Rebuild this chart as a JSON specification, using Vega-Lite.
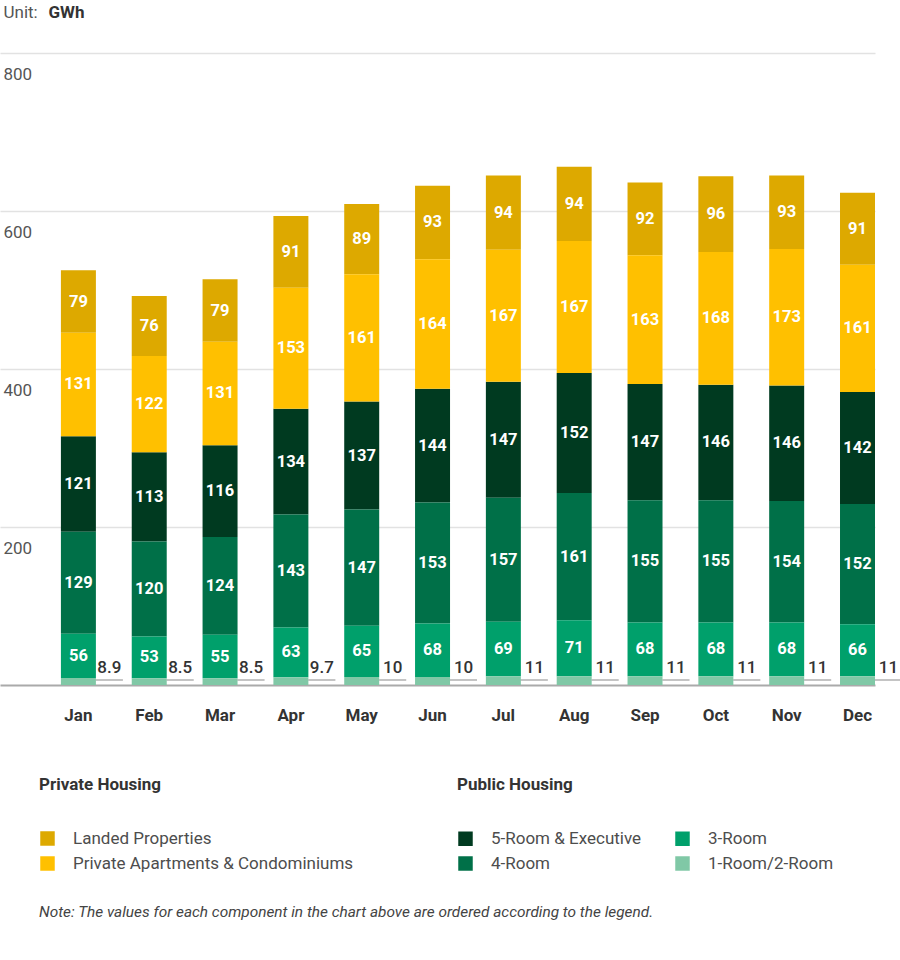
{
  "$schema": "https://vega.github.io/schema/vega-lite/v6.json",
  "width": 875,
  "height": 632,
  "autosize": {"type": "none"},
  "padding": {"left": 0, "top": 53, "right": 25, "bottom": 275},
  "background": "white",
  "config": {"font": "Roboto", "view": {"stroke": null}, "legend": {"symbolStrokeWidth": 0, "padding": 0}},
  "title": {"text": "Note: The values for each component in the chart above are ordered according to the legend.", "orient": "bottom", "anchor": "start", "frame": "group", "dx": 39, "offset": 33, "baseline": "top", "fontSize": 15.4, "fontWeight": "normal", "fontStyle": "italic", "color": "#444444", "font": "Roboto"},
  "datasets": {
    "seriesInfo": [
      {"series": "1-Room/2-Room", "group": "Public", "k": 1},
      {"series": "3-Room", "group": "Public", "k": 2},
      {"series": "4-Room", "group": "Public", "k": 3},
      {"series": "5-Room & Executive", "group": "Public", "k": 4},
      {"series": "Private Apartments & Condominiums", "group": "Private", "k": 5},
      {"series": "Landed Properties", "group": "Private", "k": 6}
    ],
    "energy": [
      {"month": "Jan", "series": "Landed Properties", "value": 79},
      {"month": "Feb", "series": "Landed Properties", "value": 76},
      {"month": "Mar", "series": "Landed Properties", "value": 79},
      {"month": "Apr", "series": "Landed Properties", "value": 91},
      {"month": "May", "series": "Landed Properties", "value": 89},
      {"month": "Jun", "series": "Landed Properties", "value": 93},
      {"month": "Jul", "series": "Landed Properties", "value": 94},
      {"month": "Aug", "series": "Landed Properties", "value": 94},
      {"month": "Sep", "series": "Landed Properties", "value": 92},
      {"month": "Oct", "series": "Landed Properties", "value": 96},
      {"month": "Nov", "series": "Landed Properties", "value": 93},
      {"month": "Dec", "series": "Landed Properties", "value": 91},
      {"month": "Jan", "series": "Private Apartments & Condominiums", "value": 131},
      {"month": "Feb", "series": "Private Apartments & Condominiums", "value": 122},
      {"month": "Mar", "series": "Private Apartments & Condominiums", "value": 131},
      {"month": "Apr", "series": "Private Apartments & Condominiums", "value": 153},
      {"month": "May", "series": "Private Apartments & Condominiums", "value": 161},
      {"month": "Jun", "series": "Private Apartments & Condominiums", "value": 164},
      {"month": "Jul", "series": "Private Apartments & Condominiums", "value": 167},
      {"month": "Aug", "series": "Private Apartments & Condominiums", "value": 167},
      {"month": "Sep", "series": "Private Apartments & Condominiums", "value": 163},
      {"month": "Oct", "series": "Private Apartments & Condominiums", "value": 168},
      {"month": "Nov", "series": "Private Apartments & Condominiums", "value": 173},
      {"month": "Dec", "series": "Private Apartments & Condominiums", "value": 161},
      {"month": "Jan", "series": "5-Room & Executive", "value": 121},
      {"month": "Feb", "series": "5-Room & Executive", "value": 113},
      {"month": "Mar", "series": "5-Room & Executive", "value": 116},
      {"month": "Apr", "series": "5-Room & Executive", "value": 134},
      {"month": "May", "series": "5-Room & Executive", "value": 137},
      {"month": "Jun", "series": "5-Room & Executive", "value": 144},
      {"month": "Jul", "series": "5-Room & Executive", "value": 147},
      {"month": "Aug", "series": "5-Room & Executive", "value": 152},
      {"month": "Sep", "series": "5-Room & Executive", "value": 147},
      {"month": "Oct", "series": "5-Room & Executive", "value": 146},
      {"month": "Nov", "series": "5-Room & Executive", "value": 146},
      {"month": "Dec", "series": "5-Room & Executive", "value": 142},
      {"month": "Jan", "series": "4-Room", "value": 129},
      {"month": "Feb", "series": "4-Room", "value": 120},
      {"month": "Mar", "series": "4-Room", "value": 124},
      {"month": "Apr", "series": "4-Room", "value": 143},
      {"month": "May", "series": "4-Room", "value": 147},
      {"month": "Jun", "series": "4-Room", "value": 153},
      {"month": "Jul", "series": "4-Room", "value": 157},
      {"month": "Aug", "series": "4-Room", "value": 161},
      {"month": "Sep", "series": "4-Room", "value": 155},
      {"month": "Oct", "series": "4-Room", "value": 155},
      {"month": "Nov", "series": "4-Room", "value": 154},
      {"month": "Dec", "series": "4-Room", "value": 152},
      {"month": "Jan", "series": "3-Room", "value": 56},
      {"month": "Feb", "series": "3-Room", "value": 53},
      {"month": "Mar", "series": "3-Room", "value": 55},
      {"month": "Apr", "series": "3-Room", "value": 63},
      {"month": "May", "series": "3-Room", "value": 65},
      {"month": "Jun", "series": "3-Room", "value": 68},
      {"month": "Jul", "series": "3-Room", "value": 69},
      {"month": "Aug", "series": "3-Room", "value": 71},
      {"month": "Sep", "series": "3-Room", "value": 68},
      {"month": "Oct", "series": "3-Room", "value": 68},
      {"month": "Nov", "series": "3-Room", "value": 68},
      {"month": "Dec", "series": "3-Room", "value": 66},
      {"month": "Jan", "series": "1-Room/2-Room", "value": 8.9},
      {"month": "Feb", "series": "1-Room/2-Room", "value": 8.5},
      {"month": "Mar", "series": "1-Room/2-Room", "value": 8.5},
      {"month": "Apr", "series": "1-Room/2-Room", "value": 9.7},
      {"month": "May", "series": "1-Room/2-Room", "value": 10},
      {"month": "Jun", "series": "1-Room/2-Room", "value": 10},
      {"month": "Jul", "series": "1-Room/2-Room", "value": 11},
      {"month": "Aug", "series": "1-Room/2-Room", "value": 11},
      {"month": "Sep", "series": "1-Room/2-Room", "value": 11},
      {"month": "Oct", "series": "1-Room/2-Room", "value": 11},
      {"month": "Nov", "series": "1-Room/2-Room", "value": 11},
      {"month": "Dec", "series": "1-Room/2-Room", "value": 11}
    ]
  },
  "data": {"name": "energy"},
  "transform": [
    {"lookup": "series", "from": {"data": {"name": "seriesInfo"}, "key": "series", "fields": ["group", "k"]}},
    {"stack": "value", "groupby": ["month"], "sort": [{"field": "k", "order": "ascending"}], "as": ["y0", "y1"]},
    {"calculate": "(datum.y0 + datum.y1) / 2", "as": "mid"}
  ],
  "layer": [
    {
      "transform": [{"filter": "datum.group == 'Public'"}],
      "mark": {"type": "bar"},
      "encoding": {
        "x": {
          "field": "month", "type": "nominal",
          "sort": ["Jan", "Feb", "Mar", "Apr", "May", "Jun", "Jul", "Aug", "Sep", "Oct", "Nov", "Dec"],
          "scale": {"paddingInner": 0.506, "paddingOuter": 0.43, "align": 1},
          "axis": {
            "title": "Unit:",
            "titleX": 3, "titleY": -667.5, "titleAlign": "left", "titleAnchor": "start", "titleBaseline": "alphabetic",
            "titleFontWeight": "normal", "titleFontSize": 17, "titleColor": "#555555",
            "labelAngle": 0, "labelFontWeight": "bold", "labelFontSize": 17, "labelColor": "#333333", "labelPadding": 22,
            "ticks": false, "domainColor": "#aaaaaa", "domainWidth": 2, "grid": false
          }
        },
        "y": {
          "field": "y0", "type": "quantitative",
          "scale": {"domain": [0, 800]},
          "axis": {
            "title": "GWh", "titleX": 48, "titleY": -35.5, "titleAngle": 0, "titleAlign": "left", "titleBaseline": "alphabetic",
            "titleFontSize": 17, "titleFontWeight": "bold", "titleColor": "#333333",
            "values": [200, 400, 600, 800], "grid": true, "gridColor": "#e2e2e2", "gridWidth": 1.5,
            "domain": false, "ticks": false, "tickSize": 0,
            "labelAlign": "left", "labelPadding": -3, "labelBaseline": "middle", "labelOffset": 21,
            "labelFontSize": 17, "labelColor": "#555555"
          }
        },
        "y2": {"field": "y1"},
        "color": {
          "field": "series", "type": "nominal",
          "scale": {
            "domain": ["5-Room & Executive", "4-Room", "3-Room", "1-Room/2-Room"],
            "range": ["#003a20", "#007048", "#00a06b", "#80c8a6"]
          },
          "legend": {
            "title": "Public Housing", "orient": "none", "legendX": 457, "legendY": 724, "columns": 2,
            "symbolType": "square", "symbolSize": 210, "labelFontSize": 17, "labelColor": "#4d4d4d", "labelOffset": 17, "labelLimit": 400,
            "titleFontSize": 17, "titleFontWeight": "bold", "titleColor": "#333333", "titlePadding": 36,
            "rowPadding": 7, "columnPadding": 32
          }
        }
      }
    },
    {
      "transform": [{"filter": "datum.group == 'Private'"}],
      "mark": {"type": "bar"},
      "encoding": {
        "x": {"field": "month", "type": "nominal", "sort": ["Jan", "Feb", "Mar", "Apr", "May", "Jun", "Jul", "Aug", "Sep", "Oct", "Nov", "Dec"]},
        "y": {"field": "y0", "type": "quantitative"},
        "y2": {"field": "y1"},
        "fill": {
          "field": "series", "type": "nominal",
          "scale": {
            "domain": ["Landed Properties", "Private Apartments & Condominiums"],
            "range": ["#dda900", "#ffc000"]
          },
          "legend": {
            "title": "Private Housing", "orient": "none", "legendX": 39, "legendY": 724, "columns": 1,
            "symbolType": "square", "symbolSize": 210, "labelFontSize": 17, "labelColor": "#4d4d4d", "labelOffset": 17, "labelLimit": 400,
            "titleFontSize": 17, "titleFontWeight": "bold", "titleColor": "#333333", "titlePadding": 36,
            "rowPadding": 7
          }
        }
      }
    },
    {
      "transform": [{"filter": "datum.series != '1-Room/2-Room'"}],
      "mark": {"type": "text", "fontSize": 16.5, "fontWeight": "bold", "color": "white", "baseline": "middle", "align": "center"},
      "encoding": {
        "x": {"field": "month", "type": "nominal", "sort": ["Jan", "Feb", "Mar", "Apr", "May", "Jun", "Jul", "Aug", "Sep", "Oct", "Nov", "Dec"]},
        "y": {"field": "mid", "type": "quantitative"},
        "text": {"field": "value", "type": "quantitative"}
      }
    },
    {
      "transform": [{"filter": "datum.series == '1-Room/2-Room'"}],
      "mark": {"type": "text", "fontSize": 17, "fontWeight": 500, "color": "#333333", "baseline": "alphabetic", "align": "center", "dx": 31, "dy": -12},
      "encoding": {
        "x": {"field": "month", "type": "nominal", "sort": ["Jan", "Feb", "Mar", "Apr", "May", "Jun", "Jul", "Aug", "Sep", "Oct", "Nov", "Dec"]},
        "y": {"field": "y0", "type": "quantitative"},
        "text": {"field": "value", "type": "quantitative"}
      }
    },
    {
      "transform": [{"filter": "datum.series == '1-Room/2-Room'"}],
      "mark": {"type": "tick", "orient": "horizontal", "size": 27, "thickness": 1, "color": "#555555", "xOffset": 31, "yOffset": -5},
      "encoding": {
        "x": {"field": "month", "type": "nominal", "sort": ["Jan", "Feb", "Mar", "Apr", "May", "Jun", "Jul", "Aug", "Sep", "Oct", "Nov", "Dec"]},
        "y": {"field": "y0", "type": "quantitative"}
      }
    }
  ]
}
